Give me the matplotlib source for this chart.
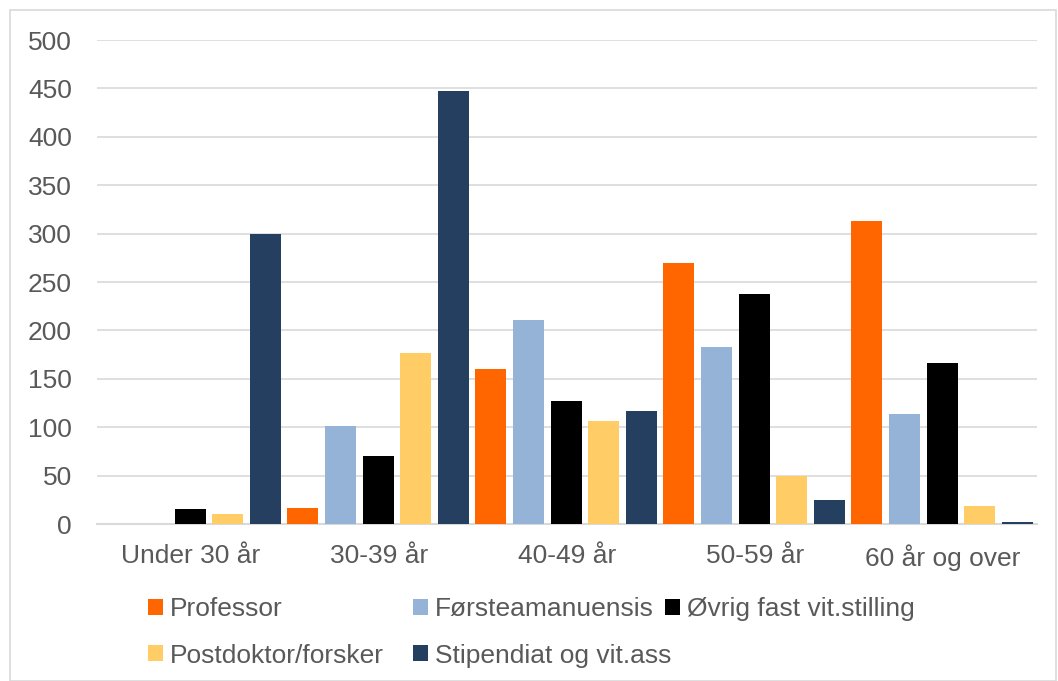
import numpy as np
import matplotlib
matplotlib.use("Agg")
import matplotlib.pyplot as plt
from matplotlib.patches import Rectangle

plt.rcParams["font.family"] = ["Liberation Sans", "DejaVu Sans"]

categories = ["Under 30 år", "30-39 år", "40-49 år", "50-59 år", "60 år og over"]
series = ["Professor", "Førsteamanuensis", "Øvrig fast vit.stilling",
          "Postdoktor/forsker", "Stipendiat og vit.ass"]
professor = [0, 17, 160, 270, 313]
forsteamanuensis = [0, 101, 211, 183, 114]
ovrig = [15, 70, 127, 238, 166]
postdoktor = [10, 177, 106, 50, 19]
stipendiat = [300, 447, 117, 25, 2]
colors = ["#FF6600", "#95B3D7", "#000000", "#FFCC66", "#243F60"]

values = [professor, forsteamanuensis, ovrig, postdoktor, stipendiat]

fig = plt.figure(figsize=(10.58, 6.81), dpi=100)
ax = fig.add_axes([97 / 1058, 1 - 524 / 681, 940 / 1058, 484 / 681])

x = np.arange(len(categories))
step = 0.2
handles = []
for j, (name, vals, c) in enumerate(zip(series, values, colors)):
    b = ax.bar(x + (j - 2) * step - 0.005, vals, width=0.165, color=c, label=name, zorder=3)
    handles.append(b)

ax.set_xlim(-0.5, len(categories) - 0.5)
ax.set_ylim(0, 500)
ax.set_yticks(np.arange(0, 501, 50))
ax.set_xticks(x)
ax.set_xticklabels(categories)
ax.grid(axis="y", color="#D9D9D9", lw=1.2, zorder=0)
for s in ["top", "right", "left"]:
    ax.spines[s].set_visible(False)
ax.spines["bottom"].set_color("#D9D9D9")
ax.spines["bottom"].set_linewidth(1.5)
ax.tick_params(axis="both", length=0, labelsize=19, labelcolor="#595959")
ax.tick_params(axis="x", pad=14.5)
ax.tick_params(axis="y", pad=18)

# legend laid out row by row like Excel: one legend per column
columns = [([0, 3], 148), ([1, 4], 413), ([2], 665)]
for idx, xpix in columns:
    leg = fig.legend([handles[i] for i in idx], [series[i] for i in idx],
                     loc="upper left", bbox_to_anchor=(xpix / 1058, 1 - 597 / 681),
                     frameon=False, fontsize=19, handlelength=0.55, handleheight=0.55,
                     handletextpad=0.28, labelspacing=0.86, borderpad=0, borderaxespad=0)
    for t in leg.get_texts():
        t.set_color("#595959")

fig.patches.append(Rectangle((10 / 1058, 0), 1 - 10 / 1058 - 2 / 1058, 1 - 10 / 681,
                             transform=fig.transFigure, fill=False,
                             edgecolor="#D9D9D9", lw=1.2))

fig.savefig("out.png", dpi=100)
